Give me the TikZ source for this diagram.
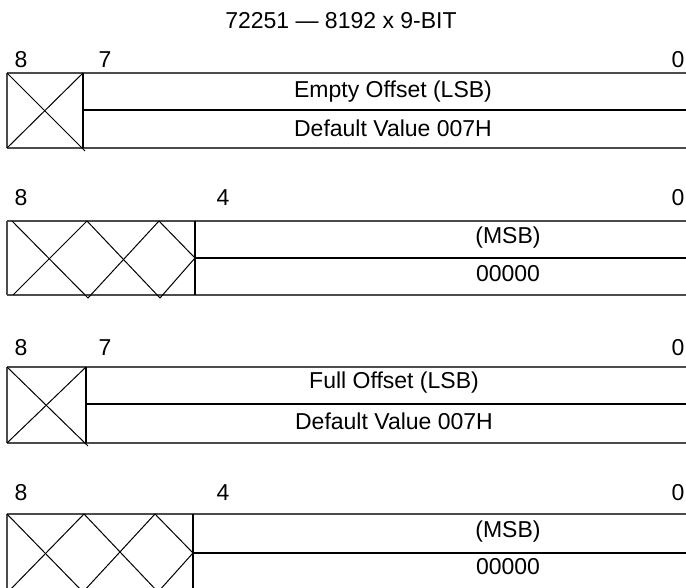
\documentclass[tikz,border=0pt]{standalone}
\usepackage{fontspec}
\setmainfont{Liberation Sans}
\usepackage{tikz}
\usetikzlibrary{calc}
\tikzset{
	rim/.style={line width=1.4pt, color=black!70},
	midline/.style={line width=2pt, color=black},
	divider/.style={line width=1.5pt, color=black},
	hatch/.style={line width=1pt, color=black},
	bitnum/.style={font=\fontsize{23}{27}\selectfont},
	field/.style={font=\fontsize{23}{27}\selectfont}
}

\begin{document}
\begin{tikzpicture}[x=1pt, y=-1pt]
		%%%%% START %%%%%
		\useasboundingbox (0, 0) rectangle (686, 588);
		
		\node[field] (title) at (341, 21) {72251 — 8192 x 9-BIT};
		
		%% register 1 : empty offset (LSB)
		\node[bitnum] (eA8) at (21, 60) {8};
		\node[bitnum] (eA7) at (105, 60) {7};
		\node[bitnum] (eA0) at (678, 60) {0};
		\draw[rim] (7, 73) -- (690, 73);
		\draw[rim] (7, 148) -- (690, 148);
		\draw[rim] (7, 73) -- (7, 148);
		\draw[midline] (83, 110) -- (690, 110);
		\draw[divider] (83, 73) -- (83, 148);
		\draw[hatch] (7, 73) -- (85, 151);
		\draw[hatch] (7, 148) -- (83, 73);
		\node[field] (eAlsb) at (393, 92) {Empty Offset (LSB)};
		\node[field] (eAdef) at (393, 128) {Default Value 007H};
		
		%% register 2 : empty offset (MSB)
		\node[bitnum] (eB8) at (21, 198) {8};
		\node[bitnum] (eB4) at (223, 198) {4};
		\node[bitnum] (eB0) at (678, 198) {0};
		\draw[rim] (7, 221) -- (690, 221);
		\draw[rim] (7, 295) -- (690, 295);
		\draw[rim] (7, 221) -- (7, 295);
		\draw[midline] (195, 258) -- (690, 258);
		\draw[divider] (195, 221) -- (195, 295);
		\draw[hatch] (12, 221) -- (88, 298) -- (159, 221) -- (195, 258);
		\draw[hatch] (13, 295) -- (87, 221) -- (160, 298) -- (195, 258);
		\node[field] (eBmsb) at (508, 238) {(MSB)};
		\node[field] (eBdef) at (508, 274) {00000};
		
		%% register 3 : full offset (LSB)
		\node[bitnum] (fA8) at (21, 348) {8};
		\node[bitnum] (fA7) at (105, 348) {7};
		\node[bitnum] (fA0) at (678, 348) {0};
		\draw[rim] (7, 367) -- (690, 367);
		\draw[rim] (7, 443) -- (690, 443);
		\draw[rim] (7, 367) -- (7, 443);
		\draw[midline] (86, 404) -- (690, 404);
		\draw[divider] (86, 367) -- (86, 443);
		\draw[hatch] (7, 367) -- (88, 446);
		\draw[hatch] (7, 443) -- (86, 367);
		\node[field] (fAlsb) at (394, 383) {Full Offset (LSB)};
		\node[field] (fAdef) at (394, 421) {Default Value 007H};
		
		%% register 4 : full offset (MSB)
		\node[bitnum] (fB8) at (21, 493) {8};
		\node[bitnum] (fB4) at (223, 493) {4};
		\node[bitnum] (fB0) at (678, 493) {0};
		\draw[rim] (7, 514) -- (690, 514);
		\draw[rim] (7, 592) -- (690, 592);
		\draw[rim] (7, 514) -- (7, 592);
		\draw[midline] (193, 553) -- (690, 553);
		\draw[divider] (193, 514) -- (193, 592);
		\draw[hatch] (7, 514) -- (83, 592) -- (155, 514) -- (193, 553);
		\draw[hatch] (8, 592) -- (84, 514) -- (158, 592) -- (193, 553);
		\node[field] (fBmsb) at (508, 532) {(MSB)};
		\node[field] (fBdef) at (508, 567) {00000};
		
		%%%%% END %%%%%
	\end{tikzpicture}
\end{document}
